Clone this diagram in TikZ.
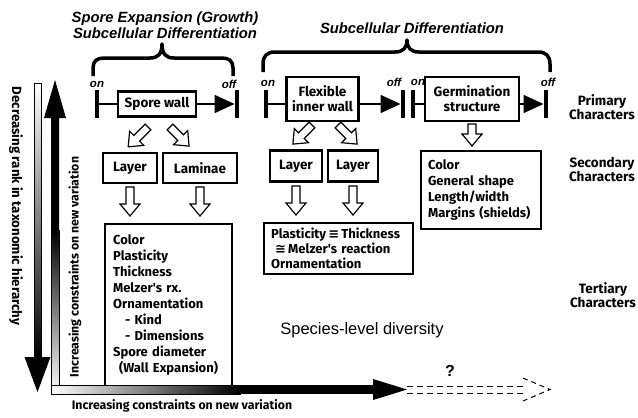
\documentclass[tikz,border=0pt]{standalone}
\usepackage{fontspec}
\setmainfont{Liberation Sans}
\newfontfamily\boxfont{Fira Sans}
\newfontfamily\symfont{DejaVu Sans}
\usetikzlibrary{arrows.meta}
\newcommand\hollowarr[3]{\draw[harr, shift={(#1)}, rotate=#2] (0,-4) -- ({#3-12},-4) -- ({#3-12},-10) -- (#3,0) -- ({#3-12},10) -- ({#3-12},4) -- (0,4) -- cycle;}
\tikzset{
 box/.style={draw, line width=2.2pt, inner sep=2pt, font=\boxfont\bfseries\fontsize{13.5}{15}\selectfont, align=center},
 lbox/.style={draw, line width=2.2pt, inner xsep=7pt, inner ysep=4pt, font=\boxfont\bfseries\fontsize{13}{16}\selectfont, align=left},
 ttl/.style={font=\bfseries\itshape\fontsize{14.8}{16}\selectfont, align=center},
 side/.style={font=\boxfont\bfseries\fontsize{13.5}{14}\selectfont, align=center},
 barn/.style={fill=black, minimum width=4.5pt, minimum height=28pt, inner sep=0pt},
 conn/.style={line width=1.5pt},
 conarr/.style={line width=1.5pt, -{Triangle[length=20pt,width=18pt]}},
 brace/.style={line width=3.5pt, line join=round},
 onoff/.style={font=\bfseries\itshape\fontsize{11.5}{13}\selectfont},
 harr/.style={draw, line width=1.2pt, fill=white, line join=miter},
 axt/.style={font=\boxfont\bfseries\fontsize{12.3}{14}\selectfont},
}
\begin{document}
\begin{tikzpicture}[x=1pt,y=1pt]
\useasboundingbox (0,0) rectangle (638,-418);
% titles
\node[ttl] (t1) at (165,-25) {Spore Expansion (Growth)\\Subcellular Differentiation};
\node[ttl] (t3) at (412,-28) {Subcellular Differentiation};
% braces
\draw[brace] (93,-76) -- (93,-68) .. controls (93,-61) and (97,-58) .. (104,-58) -- (150,-58) .. controls (158,-58) and (162,-54) .. (162,-44) .. controls (162,-54) and (166,-58) .. (174,-58) -- (222,-58) .. controls (229,-58) and (233,-61) .. (233,-68) -- (233,-76);
\draw[brace] (263,-72) -- (263,-64) .. controls (263,-56) and (267,-52) .. (275,-52) -- (395,-52) .. controls (403,-52) and (407,-48) .. (407,-40) .. controls (407,-48) and (411,-52) .. (419,-52) -- (538,-52) .. controls (546,-52) and (550,-56) .. (550,-64) -- (550,-72);
% on/off
\node[onoff] (on1) at (97,-84) {on};
\node[onoff] (off1) at (229,-84) {off};
\node[onoff] (on2) at (268,-83) {on};
\node[onoff] (off2) at (394,-82) {off};
\node[onoff] (on3) at (418,-82) {on};
\node[onoff] (off3) at (548,-82) {off};
% primary row
\node[barn] (b1) at (97,-104) {};
\node[box, minimum width=78pt, minimum height=25pt] (sw) at (157,-104) {Spore wall};
\node[barn] (b2) at (237,-104) {};
\draw[conn] (b1) -- (sw);
\draw[conarr] (sw) -- (b2);
\node[barn] (b3) at (266,-104) {};
\node[box, minimum width=72pt, minimum height=44pt] (fx) at (322.5,-99) {Flexible\\inner wall};
\node[barn] (b4) at (403,-104) {};
\node[barn] (b5) at (413,-104) {};
\node[box, minimum width=94pt, minimum height=44pt] (ge) at (472,-99) {Germination\\structure};
\node[barn] (b6) at (546,-104) {};
\draw[conn] (b3) -- (b3 -| fx.west);
\draw[conarr] (fx.east |- b4) -- (b4);
\draw[conn] (b5) -- (b5 -| ge.west);
\draw[conarr] (ge.east |- b6) -- (b6);
% side labels
\node[side] (pc) at (602,-107) {Primary\\Characters};
\node[side] (sc) at (602,-169) {Secondary\\Characters};
\node[side] (tc) at (603,-295) {Tertiary\\Characters};
% secondary boxes
\node[box, minimum width=54pt, minimum height=30pt] (ly1) at (130,-168) {Layer};
\node[box, minimum width=74pt, minimum height=30pt] (lam) at (200,-168) {Laminae};
\node[box, minimum width=52pt, minimum height=31pt] (ly2) at (296,-166) {Layer};
\node[box, minimum width=50pt, minimum height=31pt] (ly3) at (353,-166) {Layer};
\node[lbox, anchor=north west, text width=106pt, minimum height=78pt] (col) at (420,-150) {Color\\General shape\\Length/width\\Margins (shields)};
% tertiary boxes
\node[lbox, anchor=north west, text width=111pt, minimum height=162pt, inner xsep=8pt] (big) at (104,-223) {Color\\Plasticity\\Thickness\\Melzer's rx.\\Ornamentation\\\hspace*{12pt}- Kind\\\hspace*{12pt}- Dimensions\\Spore diameter\\\hspace*{6pt}(Wall Expansion)};
\node[lbox, anchor=north west, text width=135pt, minimum height=51pt, font=\boxfont\bfseries\fontsize{13}{15}\selectfont] (pl) at (263,-222) {Plasticity\,{\symfont≡}\,Thickness\\\hspace*{4pt}{\symfont≅}\,Melzer's reaction\\Ornamentation};
% hollow arrows
\coordinate (h1) at (148,-127); \hollowarr{h1}{225}{28}
\coordinate (h2) at (170,-127); \hollowarr{h2}{-45}{27}
\coordinate (h3) at (312,-125); \hollowarr{h3}{225}{27}
\coordinate (h4) at (338,-125); \hollowarr{h4}{-45}{27}
\coordinate (d1) at (130,-187); \hollowarr{d1}{-90}{29}
\coordinate (d2) at (200,-187); \hollowarr{d2}{-90}{29}
\coordinate (d3) at (296,-186); \hollowarr{d3}{-90}{29}
\coordinate (d4) at (353,-186); \hollowarr{d4}{-90}{29}
\coordinate (d5) at (472,-124); \hollowarr{d5}{-90}{22}
% left axes
\shade[top color=white, bottom color=black, draw=black, line width=0.8pt] (34,-83) rectangle (41,-357);
\fill (24.5,-357) -- (50.5,-357) -- (37.5,-392) -- cycle;
\fill (55,-80) -- (66,-118) -- (59,-118) -- (59,-230) -- (51,-230) -- (51,-118) -- (44,-118) -- cycle;
\shade[top color=black, bottom color=white, draw=black, line width=0.6pt] (51,-230) rectangle (59,-394);
\shade[left color=white, right color=black, draw=black, line width=0.6pt] (51,-385) rectangle (240,-394);
\fill (239,-385) rectangle (374,-394);
\fill (373,-379) -- (407,-389.5) -- (373,-400) -- cycle;
\draw[dashed, line width=1pt, dash pattern=on 6pt off 4pt] (407,-386) -- (523,-386) (407,-393) -- (523,-393);
\draw[dashed, line width=1pt, dash pattern=on 5pt off 4pt] (523,-378) -- (550,-389.5) -- (523,-401);
\node[axt, rotate=-90, font=\boxfont\bfseries\fontsize{13.3}{15}\selectfont] (dec) at (16,-206) {Decreasing rank in taxonomic hierarchy};
\node[axt, rotate=90] (inc1) at (75,-267) {Increasing constraints on new variation};
\node[axt] (inc2) at (182,-406) {Increasing constraints on new variation};
\node[font=\fontsize{16.5}{18}\selectfont] (spec) at (362,-330) {Species-level diversity};
\node[font=\bfseries\fontsize{16}{18}\selectfont] (q) at (450,-371) {?};
\end{tikzpicture}
\end{document}
